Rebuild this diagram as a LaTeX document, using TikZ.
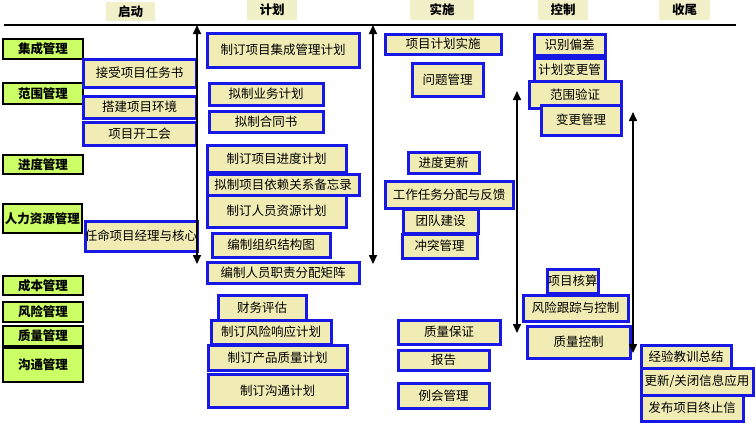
\documentclass[tikz,border=0pt]{standalone}
\usepackage{fontspec}
\setmainfont{Noto Sans CJK SC}
\usetikzlibrary{fit,arrows.meta}
\definecolor{catgreen}{RGB}{204,255,102}
\definecolor{taskbeige}{RGB}{240,236,180}
\definecolor{phasebeige}{RGB}{242,240,200}
\definecolor{taskblue}{RGB}{24,24,228}
\begin{document}
\begin{tikzpicture}[x=1pt,y=-1pt,
  cat/.style={draw=black, line width=1.3pt, fill=catgreen, inner sep=0pt,
    label={[font=\bfseries\fontsize{12.5}{14}\selectfont, inner sep=0pt]center:#1}},
  task/.style={draw=taskblue, line width=3pt, fill=taskbeige, inner sep=0pt,
    label={[font=\fontsize{12.5}{14}\selectfont, inner sep=0pt]center:#1}},
  phase/.style={fill=phasebeige, inner sep=0pt,
    label={[font=\bfseries\fontsize{12.5}{14}\selectfont, inner sep=0pt]center:#1}},
  dbl/.style={{Triangle[length=9pt,width=8pt]}-{Triangle[length=9pt,width=8pt]}, line width=1.6pt},
  hline/.style={line width=2pt}]
\useasboundingbox (0,0) rectangle (756,424);
% phase headers
\node[phase={启动}, fit={(106,2) (155,21)}] (p1) {};
\node[phase={计划}, fit={(247,0) (297,20)}] (p2) {};
\node[phase={实施}, fit={(410,0) (474,20)}] (p3) {};
\node[phase={控制}, fit={(538,0) (588,20)}] (p4) {};
\node[phase={收尾}, fit={(659,0) (710,20)}] (p5) {};
% top line
\coordinate (hl) at (4,25);
\coordinate (hr) at (736,25);
\draw[hline] (hl) -- (hr);
% categories
\node[cat={集成管理}, fit={(3,39) (83,59)}] (c1) {};
\node[cat={范围管理}, fit={(3,83) (83,104)}] (c2) {};
\node[cat={进度管理}, fit={(3,155) (83,174)}] (c3) {};
\node[cat={人力资源管理}, fit={(3,204) (82,233)}] (c4) {};
\node[cat={成本管理}, fit={(3,276) (83,295)}] (c5) {};
\node[cat={风险管理}, fit={(3,302) (83,322)}] (c6) {};
\node[cat={质量管理}, fit={(3,326) (83,346)}] (c7) {};
\node[cat={沟通管理}, fit={(3,348) (83,382)}] (c8) {};
% initiation
\node[task={接受项目任务书}, fit={(83,59) (196,87)}] (s1) {};
\node[task={搭建项目环境}, fit={(83,96) (196,118)}] (s2) {};
\node[task={项目开工会}, fit={(83,122) (196,145)}] (s3) {};
\node[task={任命项目经理与核心}, fit={(85,221) (197,251)}] (s4) {};
% planning
\node[task={制订项目集成管理计划}, fit={(207,33) (359,67)}] (j1) {};
\node[task={拟制业务计划}, fit={(209,83) (323,105)}] (j2) {};
\node[task={拟制合同书}, fit={(209,111) (323,132)}] (j3) {};
\node[task={制订项目进度计划}, fit={(207,145) (346,172)}] (j4) {};
\node[task={拟制项目依赖关系备忘录}, fit={(207,174) (359,195)}] (j5) {};
\node[task={制订人员资源计划}, fit={(207,195) (346,227)}] (j6) {};
\node[task={编制组织结构图}, fit={(212,233) (330,257)}] (j7) {};
\node[task={编制人员职责分配矩阵}, fit={(207,262) (359,283)}] (j8) {};
\node[task={财务评估}, fit={(218,295) (306,320)}] (j9) {};
\node[task={制订风险响应计划}, fit={(211,320) (331,344)}] (j10) {};
\node[task={制订产品质量计划}, fit={(208,345) (347,370)}] (j11) {};
\node[task={制订沟通计划}, fit={(208,374) (347,407)}] (j12) {};
% execution
\node[task={项目计划实施}, fit={(385,34) (501,54)}] (e1) {};
\node[task={问题管理}, fit={(412,63) (483,96)}] (e2) {};
\node[task={进度更新}, fit={(408,152) (479,173)}] (e3) {};
\node[task={工作任务分配与反馈}, fit={(385,181) (513,208)}] (e4) {};
\node[task={团队建设}, fit={(403,209) (478,233)}] (e5) {};
\node[task={冲突管理}, fit={(402,234) (477,258)}] (e6) {};
\node[task={质量保证}, fit={(398,320) (500,344)}] (e7) {};
\node[task={报告}, fit={(398,350) (489,370)}] (e8) {};
\node[task={例会管理}, fit={(398,383) (489,408)}] (e9) {};
% control
\node[task={识别偏差}, fit={(534,34) (605,55)}] (k1) {};
\node[task={计划变更管}, fit={(534,58) (605,81)}] (k2) {};
\node[task={范围验证}, fit={(529,81) (621,108)}] (k3) {};
\node[task={变更管理}, fit={(541,105) (621,135)}] (k4) {};
\node[task={项目核算}, fit={(547,269) (598,293)}] (k5) {};
\node[task={风险跟踪与控制}, fit={(523,295) (628,321)}] (k6) {};
\node[task={质量控制}, fit={(527,326) (630,358)}] (k7) {};
% closing
\node[task={经验教训总结}, fit={(641,345) (731,368)}] (z1) {};
\node[task={更新/关闭信息应用}, fit={(641,368) (753,395)}] (z2) {};
\node[task={发布项目终止信}, fit={(641,395) (743,421)}] (z3) {};
% vertical arrows
\coordinate (a1t) at (197,25);  \coordinate (a1b) at (197,264);
\coordinate (a2t) at (373,25);  \coordinate (a2b) at (373,264);
\coordinate (a3t) at (517,91);  \coordinate (a3b) at (517,333);
\coordinate (a4t) at (633,112); \coordinate (a4b) at (633,353);
\draw[dbl] (a1b) -- (a1t);
\draw[dbl] (a2b) -- (a2t);
\draw[dbl] (a3b) -- (a3t);
\draw[dbl] (a4b) -- (a4t);
\end{tikzpicture}
\end{document}
